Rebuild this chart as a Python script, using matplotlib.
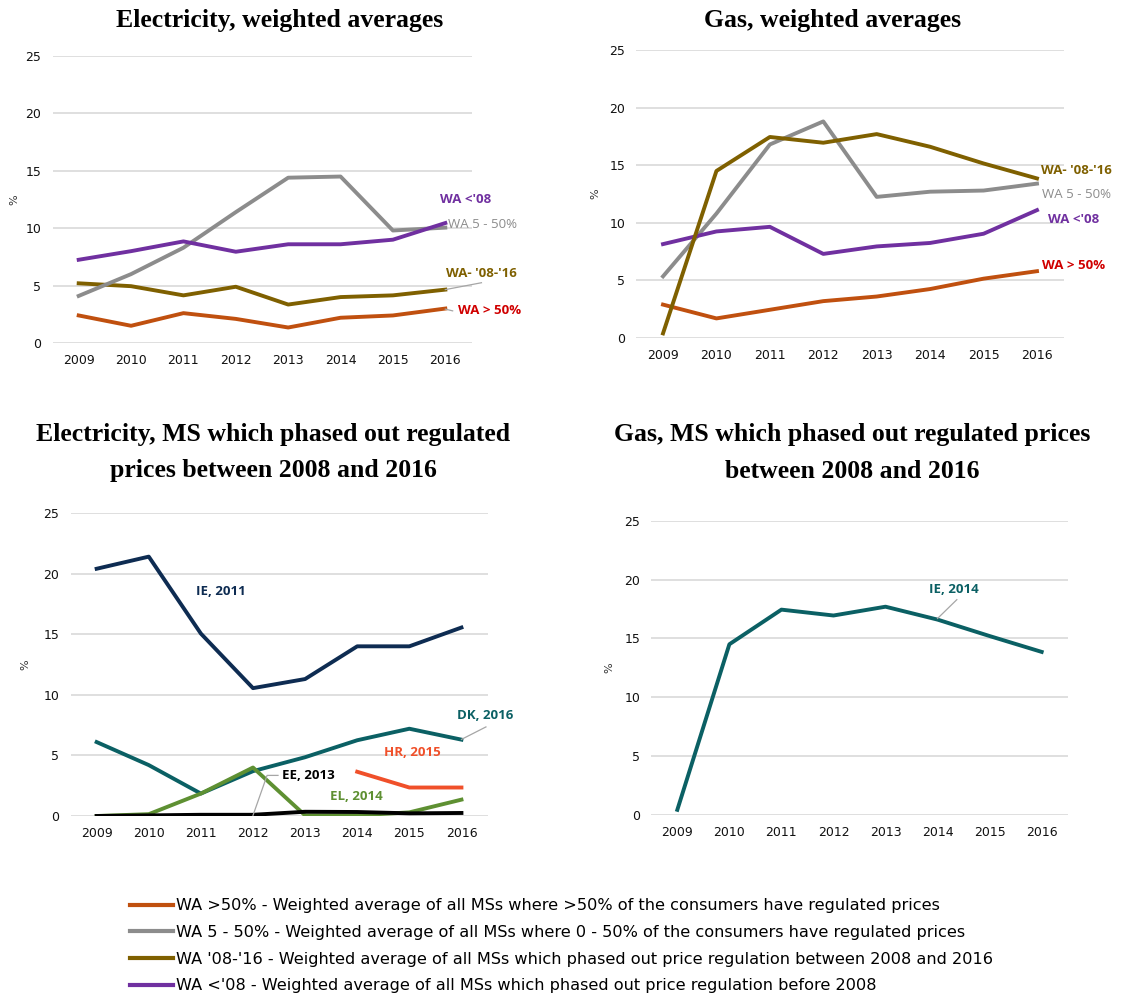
import matplotlib
matplotlib.use("Agg")
import matplotlib.pyplot as plt
from matplotlib.lines import Line2D
import numpy as np

plt.rcParams['font.family'] = ['DejaVu Sans']

years = [2009, 2010, 2011, 2012, 2013, 2014, 2015, 2016]
year_labels = [str(y) for y in years]

# electricity, weighted averages
el_wa_gt50 = [2.4, 1.5, 2.6, 2.1, 1.35, 2.2, 2.4, 3.0]
el_wa_5_50 = [4.1, 6.0, 8.3, 11.4, 14.4, 14.5, 9.8, 10.05]
el_wa_08_16 = [5.2, 4.95, 4.15, 4.9, 3.35, 4.0, 4.15, 4.65]
el_wa_lt08 = [7.25, 8.0, 8.85, 7.95, 8.6, 8.6, 9.0, 10.45]

# gas, weighted averages
gas_wa_gt50 = [2.9, 1.7, 2.45, 3.2, 3.6, 4.25, 5.15, 5.8]
gas_wa_5_50 = [5.35, 10.8, 16.8, 18.8, 12.25, 12.7, 12.8, 13.4]
gas_wa_08_16 = [0.4, 14.5, 17.45, 16.95, 17.7, 16.6, 15.15, 13.85]
gas_wa_lt08 = [8.15, 9.25, 9.65, 7.3, 7.95, 8.25, 9.05, 11.1]

# electricity, MS which phased out regulated prices
el_ie = [20.4, 21.4, 15.05, 10.55, 11.3, 14.0, 14.0, 15.55]
el_dk = [6.1, 4.2, 1.85, 3.7, 4.85, 6.25, 7.2, 6.3]
el_hr = [np.nan, np.nan, np.nan, np.nan, np.nan, 3.65, 2.35, 2.35]
el_el = [0.0, 0.15, 1.85, 4.0, 0.05, 0.05, 0.3, 1.35]
el_ee = [0.0, 0.05, 0.1, 0.1, 0.35, 0.33, 0.22, 0.25]

# gas, MS which phased out regulated prices
gas_ie = [0.4, 14.5, 17.45, 16.95, 17.7, 16.6, 15.2, 13.85]

legend_labels = [
    "WA >50% - Weighted average of all MSs where >50% of the consumers have regulated prices",
    "WA 5 - 50% - Weighted average of all MSs where 0 - 50% of the consumers have regulated prices",
    "WA '08-'16 - Weighted average of all MSs which phased out price regulation between 2008 and 2016",
    "WA <'08 - Weighted average of all MSs which phased out price regulation before 2008",
]

c_orange = '#C0500F'
c_grey = '#8C8C8C'
c_olive = '#7F6000'
c_purple = '#7030A0'
c_red = '#D00000'
c_navy = '#0E2C52'
c_teal = '#0B6064'
c_green = '#5E9032'
c_hr = '#F0502A'

W, H = 1128, 1002
fig = plt.figure(figsize=(W / 100, H / 100), dpi=100)

afont = dict(family=['Open Sans', 'DejaVu Sans'], fontsize=9.5, weight='bold', va='center')


def make_ax(x0, x1, y0, y25, lab_dx):
    ax = fig.add_axes([x0 / W, 1 - y0 / H, (x1 - x0) / W, (y0 - y25) / H])
    ax.set_xlim(2008.5, 2016.5)
    ax.set_ylim(0, 25)
    ax.set_xticks(years)
    ax.set_xticklabels(year_labels)
    ax.set_yticks([0, 5, 10, 15, 20, 25])
    ax.grid(axis='y', color='#D9D9D9', linewidth=1.2)
    ax.set_axisbelow(True)
    for s in ax.spines.values():
        s.set_visible(False)
    ax.tick_params(length=0, labelsize=9, colors='#111111', pad=8)
    ax.set_ylabel('%', fontsize=8, color='#333333')
    ax.yaxis.set_label_coords(-lab_dx / (x1 - x0), 0.5)
    return ax


lw = 2.8

# top left
ax1 = make_ax(52.5, 471.5, 343, 56, 33)
ax1.plot(years, el_wa_gt50, color=c_orange, lw=lw)
ax1.plot(years, el_wa_08_16, color=c_olive, lw=lw)
ax1.plot(years, el_wa_5_50, color=c_grey, lw=lw)
ax1.plot(years, el_wa_lt08, color=c_purple, lw=lw)
ax1.text(2015.9, 12.5, "WA <'08", color=c_purple, **afont)
ax1.text(2016.06, 10.3, "WA 5 - 50%", color=c_grey, **{**afont, 'weight': 'normal'})
ax1.text(2016.02, 6.05, "WA- '08-'16", color=c_olive, **afont)
ax1.text(2016.24, 2.8, "WA > 50%", color=c_red, **afont)
ax1.plot([2016, 2016.69], [4.65, 5.25], color='#A6A6A6', lw=0.9, clip_on=False)
ax1.plot([2016, 2016.14], [2.95, 2.8], color='#A6A6A6', lw=0.9, clip_on=False)

# top right
ax2 = make_ax(636.3, 1063.7, 338, 50, 36)
ax2.plot(years, gas_wa_gt50, color=c_orange, lw=lw)
ax2.plot(years, gas_wa_5_50, color=c_grey, lw=lw)
ax2.plot(years, gas_wa_lt08, color=c_purple, lw=lw)
ax2.plot(years, gas_wa_08_16, color=c_olive, lw=lw)
ax2.text(2016.08, 14.5, "WA- '08-'16", color=c_olive, **afont)
ax2.text(2016.1, 12.5, "WA 5 - 50%", color=c_grey, **{**afont, 'weight': 'normal'})
ax2.text(2016.2, 10.25, "WA <'08", color=c_purple, **afont)
ax2.text(2016.1, 6.3, "WA > 50%", color=c_red, **afont)

# bottom left
ax3 = make_ax(70.6, 487.5, 816, 513, 40)
ax3.plot(years, el_ie, color=c_navy, lw=lw)
ax3.plot(years, el_dk, color=c_teal, lw=lw)
ax3.plot(years, el_hr, color=c_hr, lw=lw)
ax3.plot(years, el_el, color=c_green, lw=lw)
ax3.plot(years, el_ee, color='black', lw=lw)
ax3.text(2010.9, 18.5, "IE, 2011", color=c_navy, **afont)
ax3.text(2015.92, 8.3, "DK, 2016", color=c_teal, **afont)
ax3.text(2014.52, 5.2, "HR, 2015", color=c_hr, **afont)
ax3.text(2012.55, 3.35, "EE, 2013", color='black', **afont)
ax3.text(2013.47, 1.65, "EL, 2014", color=c_green, **afont)
ax3.plot([2016.0, 2016.47], [6.32, 7.35], color='#A6A6A6', lw=0.9, clip_on=False)
ax3.plot([2012.0, 2012.27, 2012.48], [0.05, 3.35, 3.35], color='#A6A6A6', lw=0.9)

# bottom right
ax4 = make_ax(651.3, 1067.7, 814.5, 521, 37)
ax4.plot(years, gas_ie, color=c_teal, lw=lw)
ax4.text(2013.84, 19.2, "IE, 2014", color=c_teal, **afont)
ax4.plot([2014.0, 2014.37], [16.7, 18.3], color='#A6A6A6', lw=0.9)

# titles
tfont = dict(family='Liberation Serif', weight='bold', fontsize=18.5, ha='center', va='center')
fig.text(280 / W, 1 - 20 / H, "Electricity, weighted averages", **tfont)
fig.text(833 / W, 1 - 20 / H, "Gas, weighted averages", **tfont)
fig.text(273 / W, 1 - 435 / H, "Electricity, MS which phased out regulated", **tfont)
fig.text(273 / W, 1 - 471 / H, "prices between 2008 and 2016", **tfont)
fig.text(852 / W, 1 - 435 / H, "Gas, MS which phased out regulated prices", **tfont)
fig.text(852 / W, 1 - 471 / H, "between 2008 and 2016", **tfont)

# legend
handles = [Line2D([], [], color=c, lw=3) for c in [c_orange, c_grey, c_olive, c_purple]]
fig.legend(handles, legend_labels, loc='upper left', bbox_to_anchor=(124 / W, 1 - 892 / H),
           frameon=False, fontsize=11.6, handlelength=2.65, handletextpad=0.2,
           labelspacing=0.72, borderaxespad=0)

fig.savefig('out.png', dpi=100)
